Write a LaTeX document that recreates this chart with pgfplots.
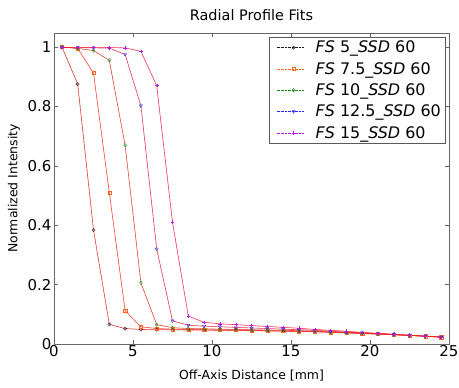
\documentclass[border=0pt]{standalone}
\usepackage{fontspec}
\setmainfont{DejaVu Sans}
\usepackage{pgfplots}
\pgfplotsset{compat=1.18}
\usepackage{pgfplotstable}
\definecolor{cFS5}{rgb}{0.1,0.1,0.1}
\definecolor{cFS75}{rgb}{1,0.4,0.1}
\definecolor{cFS10}{rgb}{0.1,0.55,0.1}
\definecolor{cFS125}{rgb}{0.15,0.15,1}
\definecolor{cFS15}{rgb}{0.7,0.1,0.9}
\pgfplotstableread{
x fs5 fs75 fs10 fs125 fs15
0.5 1.000 1.000 1.000 0.998 0.998
1.5 0.875 0.995 0.995 0.998 0.998
2.5 0.384 0.912 0.988 0.997 0.998
3.5 0.066 0.510 0.955 0.996 0.998
4.5 0.052 0.112 0.669 0.975 0.997
5.5 0.049 0.058 0.206 0.802 0.985
6.5 0.048 0.052 0.065 0.320 0.870
7.5 0.048 0.050 0.055 0.078 0.410
8.5 0.047 0.049 0.052 0.063 0.094
9.5 0.047 0.048 0.051 0.060 0.073
10.5 0.046 0.047 0.050 0.058 0.068
11.5 0.046 0.047 0.049 0.056 0.065
12.5 0.045 0.046 0.048 0.054 0.062
13.5 0.044 0.045 0.047 0.052 0.059
14.5 0.043 0.044 0.046 0.050 0.056
15.5 0.042 0.043 0.045 0.048 0.053
16.5 0.041 0.042 0.043 0.046 0.049
17.5 0.039 0.040 0.041 0.043 0.046
18.5 0.037 0.038 0.039 0.040 0.043
19.5 0.035 0.036 0.037 0.038 0.039
20.5 0.033 0.034 0.035 0.035 0.036
21.5 0.031 0.031 0.032 0.032 0.033
22.5 0.029 0.029 0.029 0.029 0.030
23.5 0.026 0.026 0.026 0.026 0.027
24.5 0.023 0.023 0.023 0.023 0.024
}\data
\begin{document}
\begin{tikzpicture}
\useasboundingbox (-54bp,-44bp) rectangle (405bp,344bp);
\begin{axis}[
  scale only axis, width=395bp, height=311bp,
  xmin=0, xmax=25, ymin=0, ymax=1.047,
  xtick={0,5,...,25}, ytick={0,0.2,0.4,0.6,0.8,1},
  yticklabels={0,0.2,0.4,0.6,0.8,1},
  tick align=inside, major tick length=4bp,
  axis line style={gray!80!black, line width=0.5pt},
  tick style={gray!80!black},
  ticklabel style={font=\fontsize{15}{16}\selectfont},
  xticklabel style={yshift=2bp},
  yticklabel style={xshift=1bp},
  /pgf/number format/assume math mode=true,
  xlabel={Off-Axis Distance [mm]},
  ylabel={Normalized Intensity},
  xlabel style={font=\fontsize{12.5}{13}\selectfont, yshift=-6bp},
  ylabel style={font=\fontsize{12.5}{13}\selectfont, yshift=1bp},
  title={Radial Profile Fits},
  title style={font=\fontsize{14.5}{15}\selectfont, yshift=3bp},
  legend style={at={(0.99,0.988)}, anchor=north east, font=\fontsize{16}{19}\selectfont,
    draw=gray!70!black, line width=0.5pt, row sep=4bp, inner xsep=2bp, inner ysep=2bp},
  legend cell align=left,
  legend image code/.code={\path (-28bp,0bp) (14bp,0bp); \draw[#1] (-23bp,0bp) -- (4bp,0bp); \draw[#1, solid, mark repeat=1] plot coordinates {(-6bp,0bp)};},
  every axis plot/.append style={line width=0.4pt},
]
\addplot[cFS5, densely dotted, mark=o, mark size=1.6bp, mark options={solid}] table[x=x,y=fs5] {\data};
\addlegendentry{\textit{FS} 5\_\textit{SSD} 60}
\addplot[cFS75, densely dotted, mark=square, mark size=1.6bp, mark options={solid}] table[x=x,y=fs75] {\data};
\addlegendentry{\textit{FS} 7.5\_\textit{SSD} 60}
\addplot[cFS10, densely dotted, mark=diamond, mark size=1.8bp, mark options={solid}] table[x=x,y=fs10] {\data};
\addlegendentry{\textit{FS} 10\_\textit{SSD} 60}
\addplot[cFS125, densely dotted, mark=triangle, mark size=1.8bp, mark options={solid, rotate=180}] table[x=x,y=fs125] {\data};
\addlegendentry{\textit{FS} 12.5\_\textit{SSD} 60}
\addplot[cFS15, densely dotted, mark=+, mark size=1.8bp, mark options={solid}] table[x=x,y=fs15] {\data};
\addlegendentry{\textit{FS} 15\_\textit{SSD} 60}
\addplot[red!90!white, opacity=0.75, forget plot, line width=0.6pt] table[x=x,y=fs5] {\data};
\addplot[red!90!white, opacity=0.75, forget plot, line width=0.6pt] table[x=x,y=fs75] {\data};
\addplot[red!90!white, opacity=0.75, forget plot, line width=0.6pt] table[x=x,y=fs10] {\data};
\addplot[red!90!white, opacity=0.75, forget plot, line width=0.6pt] table[x=x,y=fs125] {\data};
\addplot[red!90!white, opacity=0.75, forget plot, line width=0.6pt] table[x=x,y=fs15] {\data};
\end{axis}
\end{tikzpicture}
\end{document}
